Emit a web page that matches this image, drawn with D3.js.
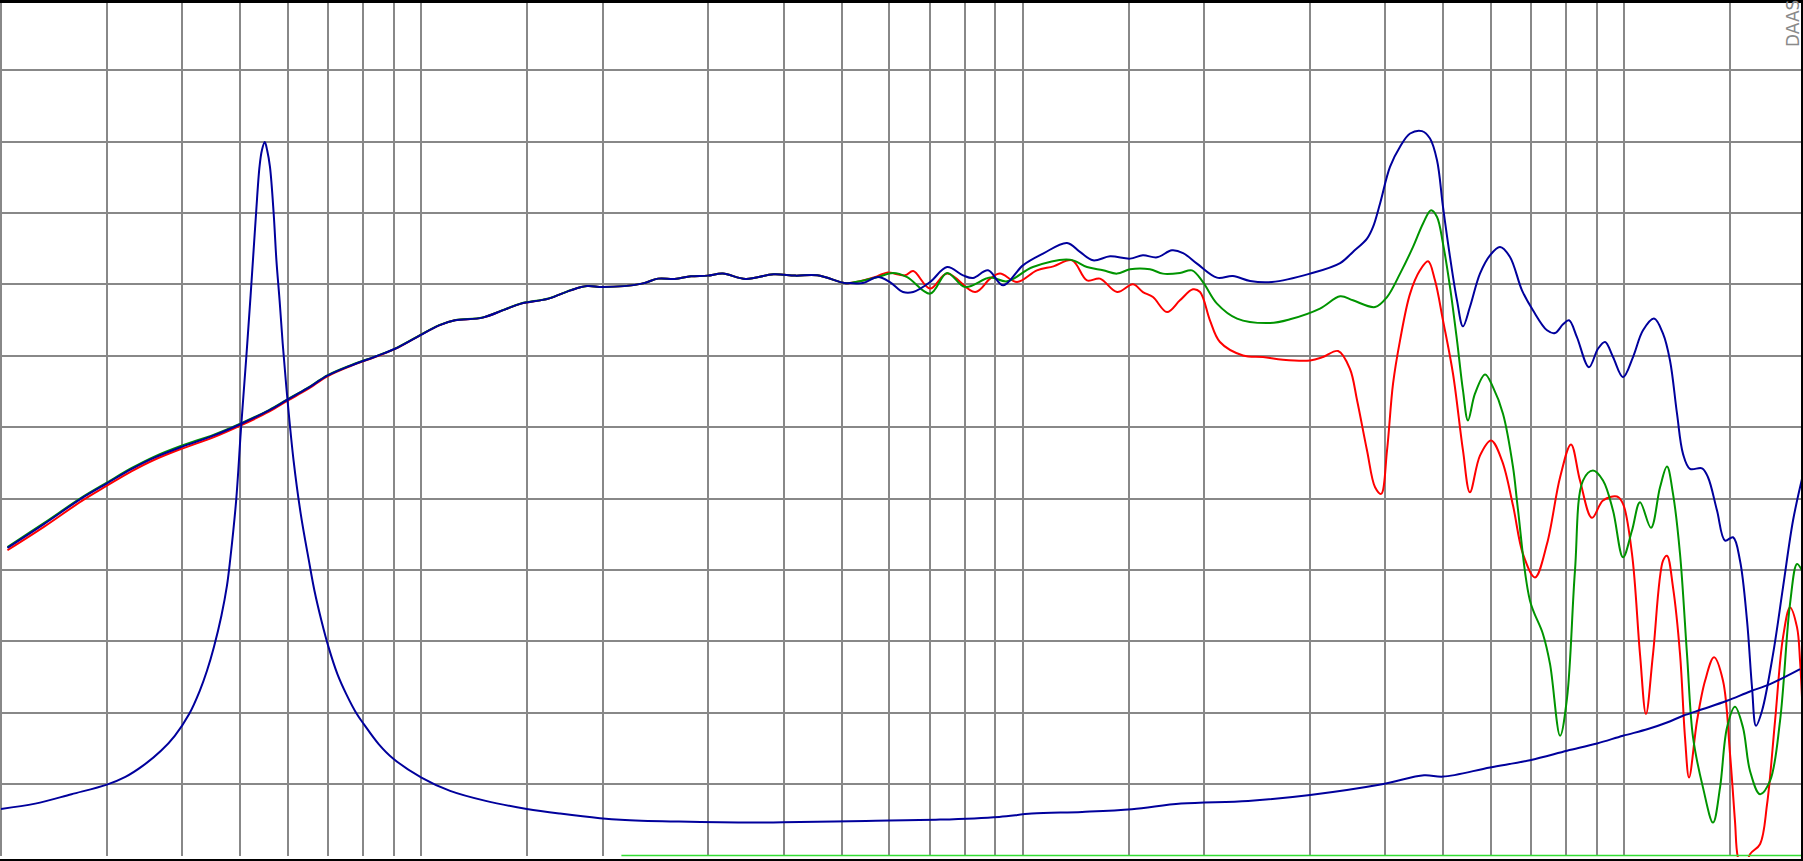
<!DOCTYPE html>
<html>
<head>
<meta charset="utf-8">
<script src="https://cdn.jsdelivr.net/npm/d3@7"></script>
<style>
  html, body { margin: 0; padding: 0; background: #fff; overflow: hidden; }
  svg { display: block; }
</style>
</head>
<body>
<svg id="chart" width="1803" height="861"></svg>
<script>
// ---------- data ----------
const gridFreqs = [20,30,40,50,60,70,80,90,100,150,200,300,400,500,600,700,800,900,
                   1000,1500,2000,3000,4000,5000,6000,7000,8000,9000,10000,15000];
const gridLevels = [105,100,95,90,85,80,75,70,65,60,55];
const watermark = "DAAS";

// shared low-frequency part of the SPL curves (Hz)
const lowFreq = [20.5,23.6,27.3,30,33,35.9,39.8,45.2,50.2,55.8,59.9,64.5,69.9,76.4,84.8,90.4,98.3,
                 107,113.7,126.4,137.5,146.4,162.7,177,188.5,200.4,232.5,247.4,263.6,280.6,299,317,
                 346,385,418.6,455,505];
const lowBlue  = [71.55,73.23,75.05,76.07,77.08,77.85,78.6,79.42,80.24,81.17,81.92,82.69,83.62,84.32,
                  85.02,85.49,86.31,87.13,87.48,87.67,88.23,88.65,89.0,89.58,89.88,89.81,90.05,90.4,
                  90.38,90.56,90.61,90.75,90.38,90.7,90.61,90.63,90.09];
const lowGreen = [71.6,73.3,75.1,76.12,77.14,77.92,78.68,79.48,80.28,81.2,81.95,82.72,83.64,84.34,
                  85.03,85.5,86.32,87.14,87.49,87.68,88.24,88.66,89.01,89.59,89.88,89.81,90.05,90.4,
                  90.38,90.56,90.61,90.75,90.38,90.7,90.61,90.63,90.09];
const lowRed   = [71.38,73.03,74.86,75.9,76.92,77.7,78.47,79.3,80.14,81.08,81.85,82.62,83.58,84.3,
                  85.0,85.48,86.31,87.13,87.48,87.67,88.23,88.65,89.0,89.58,89.88,89.81,90.05,90.4,
                  90.38,90.56,90.61,90.75,90.38,90.7,90.61,90.63,90.09];

// upper part [Hz, dB]
const blueHigh = [[516,90.09],[542,90.09],[574,90.51],[601,90.16],[632,89.46],[657,89.46],[701,90.16],
  [748,91.21],[795,90.63],[826,90.44],[875,90.98],[927,89.93],[1000,91.33],[1080,92.15],[1184,92.9],
  [1244,92.27],[1308,91.68],[1396,91.96],[1507,91.8],[1583,92.03],[1671,91.89],[1769,92.38],[1846,92.19],
  [1947,91.45],[2102,90.47],[2234,90.58],[2386,90.23],[2594,90.16],[3002,90.75],[3368,91.49],[3537,92.27],
  [3733,93.2],[3820,94.02],[3924,95.66],[4076,98.22],[4236,99.63],[4402,100.56],[4608,100.73],[4751,100.21],
  [4880,98.69],[4993,95.42],[5129,91.92],[5268,88.88],[5390,87.06],[5535,88.41],[5752,90.75],[5977,92.03],
  [6211,92.62],[6453,91.92],[6756,89.58],[7046,88.18],[7435,86.78],[7666,86.59],[7905,87.2],[8088,87.48],
  [8337,86.31],[8730,84.2],[9038,85.49],[9285,85.96],[9572,84.91],[9946,83.5],[10334,84.91],[10738,86.78],
  [11199,87.6],[11592,86.55],[11906,84.67],[12230,80.94],[12514,78.13],[12853,77.08],[13458,77.12],
  [13770,76.49],[14254,74.16],[14698,72.06],[15155,72.29],[15566,70.65],[15989,66.45],[16298,61.77],
  [16548,59.09],[16934,60.14],[17663,64.11],[18350,68.78],[19067,73.46],[19734,76.38]];

const greenHigh = [[516,90.09],[572,90.49],[608,90.8],[642,90.51],[701,89.35],[748,90.8],[801,89.81],
  [882,90.47],[941,90.21],[1039,91.21],[1197,91.73],[1278,91.21],[1359,90.98],[1434,90.75],[1507,91.05],
  [1626,91.05],[1709,90.75],[1824,90.8],[1910,90.98],[1992,90.16],[2102,88.65],[2270,87.6],[2575,87.29],
  [2780,87.55],[3118,88.3],[3368,89.16],[3537,88.88],[3850,88.41],[4030,89.11],[4236,90.75],[4452,92.62],
  [4626,94.26],[4770,95.19],[4880,94.72],[4993,92.85],[5129,89.81],[5268,86.08],[5390,82.57],[5494,80.47],
  [5643,82.34],[5866,83.69],[6046,82.8],[6282,80.94],[6528,77.2],[6650,74.3],[6966,67.85],[7320,65.52],
  [7522,63.41],[7817,58.39],[8029,61.07],[8275,69.95],[8533,76.26],[8866,76.96],[9213,76.26],[9572,74.16],
  [9946,70.89],[10294,72.76],[10614,74.74],[11069,72.95],[11460,75.79],[11770,77.24],[12044,75.33],
  [12372,71.12],[12706,64.11],[13004,58.27],[13509,54.76],[14038,52.31],[14419,54.76],[14810,58.97],
  [15268,60.42],[15743,58.97],[16172,55.93],[16802,54.3],[17460,55.23],[18142,59.44],[18849,67.62],
  [19363,70.42],[19734,69.95]];

const redHigh = [[516,90.09],[572,90.56],[594,90.82],[637,90.63],[657,90.93],[701,89.7],[748,90.75],
  [833,89.46],[882,90.4],[916,90.75],[978,90.16],[1055,90.98],[1124,91.26],[1207,91.68],[1278,90.28],
  [1343,90.4],[1434,89.46],[1524,90.0],[1583,89.46],[1645,89.11],[1736,88.06],[1824,88.88],[1917,89.65],
  [1970,89.46],[2046,87.48],[2126,85.96],[2322,85.02],[2507,84.91],[2706,84.72],[3002,84.67],[3154,84.91],
  [3342,85.33],[3496,84.09],[3594,81.87],[3733,78.37],[3850,75.79],[3940,75.33],[4030,78.37],[4124,83.04],
  [4236,86.08],[4402,89.35],[4572,90.98],[4716,91.61],[4842,90.28],[4993,87.48],[5188,83.74],[5390,78.37],
  [5535,75.44],[5752,78.01],[6002,79.07],[6258,77.66],[6528,74.51],[6782,71.12],[7100,69.48],[7435,71.83],
  [7817,76.49],[8150,78.79],[8436,76.26],[8831,73.65],[9213,74.86],[9720,75.14],[9946,74.63],[10294,71.12],
  [10614,64.11],[10860,59.91],[11156,64.11],[11592,70.65],[11770,71.0],[12044,68.78],[12372,64.11],
  [12610,58.27],[12806,55.46],[13204,59.44],[13616,62.24],[14092,63.88],[14584,62.24],[14982,57.1],
  [15268,52.43],[15441,49.86],[15800,48.8],[16172,50.1],[16802,50.8],[17264,53.6],[17800,59.44],
  [18350,65.28],[18849,67.38],[19363,65.98],[19586,63.64],[19734,61.07]];

// impedance curve, drawn on the same grid
const impedance = [[20,53.27],[22.8,53.64],[26.2,54.3],[30,54.97],[32.2,55.51],[34.4,56.28],[36.9,57.34],
  [38.9,58.39],[41.1,59.91],[42.8,61.54],[44,62.94],[45.2,64.63],[46.5,66.8],[47.5,68.9],[48.1,70.75],
  [49.2,74.86],[50.1,79.77],[51.1,84.67],[52.0,89.23],[52.6,92.38],[53.1,94.98],[53.8,98.22],[54.3,99.39],
  [54.9,99.96],[55.4,99.39],[56.0,98.22],[56.8,94.96],[57.4,91.68],[58.1,88.88],[58.8,85.84],[59.9,81.87],
  [61.3,77.66],[63,73.93],[65,70.65],[66.4,68.55],[68.2,66.45],[70.1,64.58],[72.5,62.71],[75,61.31],
  [78.1,59.91],[80.2,59.21],[84.9,57.81],[89.7,56.8],[100,55.46],[111.6,54.53],[127.9,53.83],[149.7,53.27],
  [170,52.94],[198,52.62],[218,52.5],[268,52.38],[363,52.31],[399,52.34],[548,52.43],[728,52.52],
  [913,52.71],[1035,52.94],[1254,53.06],[1518,53.25],[1832,53.64],[2368,53.83],[3002,54.25],[3953,55.0],
  [4644,55.63],[4993,55.53],[5977,56.17],[6965,56.68],[8029,57.34],[9004,57.85],[9946,58.39],[10942,58.86],
  [11770,59.32],[12514,59.79],[13509,60.26],[14810,60.84],[16172,61.49],[17460,62.01],[19586,63.06]];

// reference marker line along the bottom
const refLine = [[215,50],[20000,50]];

// ---------- build series ----------
const withLow = (lowVals, high) => lowFreq.map((f, i) => [f, lowVals[i]]).concat(high);
const series = [
  { name: "red",   color: "#ff0000", data: withLow(lowRed, redHigh) },
  { name: "green", color: "#009400", data: withLow(lowGreen, greenHigh) },
  { name: "blue",  color: "#00009c", data: withLow(lowBlue, blueHigh) },
  { name: "imp",   color: "#00009c", data: impedance }
];

// ---------- drawing ----------
const W = 1803, H = 861;
const svg = d3.select("#chart");
const x = d3.scaleLog().domain([20, 20000]).range([1, 1805.5]);
const y = d3.scaleLinear().domain([50, 110]).range([855.6, -1.3]);

svg.append("rect").attr("width", W).attr("height", H).attr("fill", "#fff");

// vertical grid via axis
const gx = svg.append("g")
  .attr("transform", "translate(0,856)")
  .call(d3.axisBottom(x).tickValues(gridFreqs).tickSize(-856).tickFormat("").offset(0));
gx.select(".domain").remove();
gx.selectAll(".tick line").attr("stroke", "#888").attr("stroke-width", 2).attr("shape-rendering", "crispEdges");

// horizontal grid via axis
const gy = svg.append("g")
  .call(d3.axisLeft(y).tickValues(gridLevels).tickSize(-1801).tickFormat("").offset(0));
gy.select(".domain").remove();
gy.selectAll(".tick line").attr("stroke", "#888").attr("stroke-width", 2).attr("shape-rendering", "crispEdges");

svg.append("clipPath").attr("id", "plotclip")
  .append("rect").attr("x", 0).attr("y", 3).attr("width", 1801).attr("height", 854);

const line = d3.line()
  .x(d => x(d[0]))
  .y(d => y(d[1]))
  .curve(d3.curveCatmullRom.alpha(0.5));

const plot = svg.append("g").attr("clip-path", "url(#plotclip)");
plot.selectAll("path.curve").data(series).join("path")
  .attr("class", "curve")
  .attr("d", d => line(d.data))
  .attr("fill", "none")
  .attr("stroke", d => d.color)
  .attr("stroke-width", 2)
  .attr("stroke-linejoin", "round");

plot.append("path")
  .attr("d", d3.line().x(d => x(d[0])).y(d => y(d[1]))(refLine))
  .attr("fill", "none")
  .attr("stroke", "#33dd33")
  .attr("stroke-width", 1.5);

// frame
svg.append("rect").attr("x", 0).attr("y", 0).attr("width", W).attr("height", 3).attr("fill", "#000");
svg.append("rect").attr("x", 1801).attr("y", 0).attr("width", 2).attr("height", H).attr("fill", "#000");
svg.append("rect").attr("x", 0).attr("y", 859).attr("width", W).attr("height", 2).attr("fill", "#000");

// watermark
svg.append("text")
  .attr("transform", "translate(1799,47) rotate(-90)")
  .attr("font-family", "DejaVu Sans, sans-serif")
  .attr("font-size", 17)
  .attr("fill", "#8a8a8a")
  .text(watermark);
</script>
</body>
</html>
